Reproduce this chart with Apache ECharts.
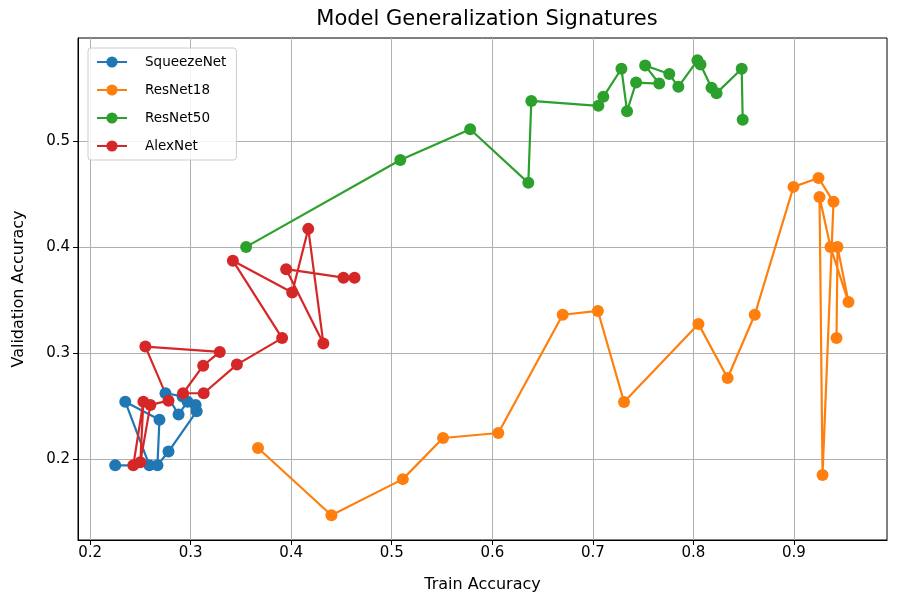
<!DOCTYPE html>
<html>
<head>
<meta charset="utf-8">
<script src="https://cdn.jsdelivr.net/npm/echarts@6/dist/echarts.min.js"></script>
<style>
html,body{margin:0;padding:0;background:#fff;}
#chart{width:900px;height:606px;}
</style>
</head>
<body>
<div id="chart"></div>
<script>
const seriesNames = ['SqueezeNet', 'ResNet18', 'ResNet50', 'AlexNet'];

const squeezeTrain = [0.225, 0.259, 0.235, 0.269, 0.267, 0.278, 0.306, 0.305, 0.292, 0.275, 0.288, 0.297];
const squeezeVal   = [0.194, 0.194, 0.254, 0.237, 0.194, 0.207, 0.245, 0.251, 0.259, 0.262, 0.242, 0.254];

const resnet18Train = [0.367, 0.440, 0.511, 0.551, 0.606, 0.670, 0.705, 0.731, 0.805, 0.834, 0.861, 0.8995, 0.9244, 0.9393, 0.9284, 0.9254, 0.9363, 0.9542, 0.9433, 0.9423];
const resnet18Val   = [0.2104, 0.147, 0.181, 0.2198, 0.2245, 0.336, 0.3396, 0.2538, 0.3274, 0.2764, 0.336, 0.4566, 0.465, 0.4425, 0.185, 0.447, 0.400, 0.348, 0.400, 0.314];

const resnet50Train = [0.3552, 0.5085, 0.578, 0.6358, 0.6388, 0.7055, 0.7104, 0.7284, 0.734, 0.743, 0.766, 0.752, 0.776, 0.785, 0.804, 0.807, 0.818, 0.823, 0.848, 0.849];
const resnet50Val   = [0.400, 0.482, 0.511, 0.4604, 0.5377, 0.533, 0.5415, 0.568, 0.528, 0.555, 0.554, 0.571, 0.563, 0.551, 0.576, 0.572, 0.550, 0.545, 0.568, 0.520];

const alexTrain = [0.243, 0.253, 0.250, 0.260, 0.278, 0.255, 0.329, 0.3125, 0.2925, 0.313, 0.346, 0.391, 0.342, 0.401, 0.417, 0.432, 0.395, 0.452, 0.463];
const alexVal   = [0.194, 0.254, 0.197, 0.251, 0.255, 0.306, 0.301, 0.288, 0.262, 0.262, 0.289, 0.314, 0.387, 0.357, 0.417, 0.309, 0.379, 0.371, 0.371];

const xTicks = [0.2, 0.3, 0.4, 0.5, 0.6, 0.7, 0.8, 0.9];
const yTicks = [0.2, 0.3, 0.4, 0.5];

const colors = ['#1f77b4', '#ff7f0e', '#2ca02c', '#d62728'];

function pairs(xs, ys) { return xs.map((x, i) => [x, ys[i]]); }
const allData = [
  pairs(squeezeTrain, squeezeVal),
  pairs(resnet18Train, resnet18Val),
  pairs(resnet50Train, resnet50Val),
  pairs(alexTrain, alexVal)
];

const FONT = 'DejaVu Sans';
const chart = echarts.init(document.getElementById('chart'), null, {renderer: 'canvas'});
chart.setOption({
  animation: false,
  backgroundColor: '#fff',
  color: colors,
  textStyle: {fontFamily: FONT},
  title: {
    text: 'Model Generalization Signatures',
    left: 482, top: 4, textAlign: 'center',
    textStyle: {fontFamily: FONT, fontSize: 21, fontWeight: 'normal', color: '#000'}
  },
  grid: {left: 78, right: 13, top: 38, bottom: 66, show: true, borderColor: '#000', borderWidth: 1, backgroundColor: 'transparent'},
  legend: {
    left: 88, top: 48, orient: 'vertical',
    data: seriesNames,
    itemWidth: 30, itemHeight: 14, itemGap: 14,
    padding: [7, 10, 7, 8],
    borderColor: '#cccccc', borderWidth: 1, borderRadius: 3,
    backgroundColor: 'rgba(255,255,255,0.85)',
    textStyle: {fontFamily: FONT, fontSize: 13.5, color: '#000', padding: [0, 0, 0, 13]}
  },
  xAxis: {
    type: 'value', min: 0.188, max: 0.9925,
    name: 'Train Accuracy', nameLocation: 'middle', nameGap: 37,
    nameTextStyle: {fontFamily: FONT, fontSize: 16, color: '#000'},
    axisLine: {show: true, lineStyle: {color: '#000', width: 1}},
    axisTick: {show: true, customValues: xTicks, length: 5, lineStyle: {color: '#000'}},
    axisLabel: {customValues: xTicks, fontFamily: FONT, fontSize: 15, color: '#000', margin: 6, formatter: v => String(+v.toFixed(1))},
    splitLine: {show: true, lineStyle: {color: '#b0b0b0', width: 1}}
  },
  yAxis: {
    type: 'value', min: 0.1236, max: 0.597,
    name: 'Validation Accuracy', nameLocation: 'middle', nameGap: 51,
    nameTextStyle: {fontFamily: FONT, fontSize: 16, color: '#000'},
    axisLine: {show: true, lineStyle: {color: '#000', width: 1}},
    axisTick: {show: true, customValues: yTicks, length: 5, lineStyle: {color: '#000'}},
    axisLabel: {customValues: yTicks, fontFamily: FONT, fontSize: 15, color: '#000', margin: 8, formatter: v => String(+v.toFixed(1))},
    splitLine: {show: true, lineStyle: {color: '#b0b0b0', width: 1}}
  },
  series: seriesNames.map((name, i) => ({
    name: name,
    type: 'line',
    data: allData[i],
    symbol: 'circle',
    symbolSize: 12,
    showSymbol: true,
    lineStyle: {width: 2.2, color: colors[i]},
    itemStyle: {color: colors[i]},
    emphasis: {disabled: true}
  }))
});
</script>
</body>
</html>
